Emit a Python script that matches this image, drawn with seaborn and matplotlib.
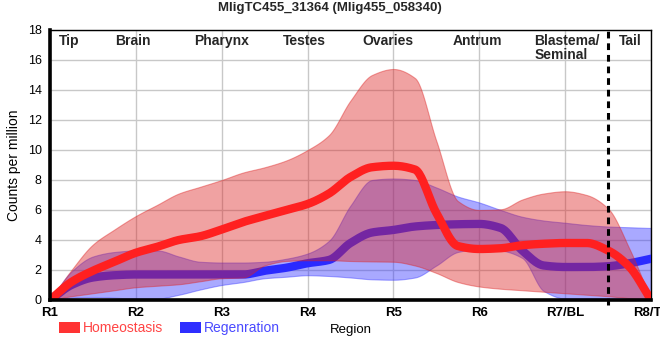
import numpy as np
import pandas as pd
import matplotlib
matplotlib.use("Agg")
import matplotlib.pyplot as plt
import seaborn as sns
from matplotlib.patches import Patch

sns.set_theme(style="whitegrid")
plt.rcParams["font.family"] = ["Liberation Sans", "DejaVu Sans"]

# body regions along the x axis
regions = ["R1", "R2", "R3", "R4", "R5", "R6", "R7/BL", "R8/TL"]
tissues = ["Tip", "Brain", "Pharynx", "Testes", "Ovaries", "Antrum",
           "Blastema/\nSeminal", "Tail"]

# sampled in quarter steps between regions (R1 = 0 ... R8 = 7)
steps = np.arange(29) / 4

homeo_mean = [0, 1.2, 1.95, 2.55, 3.15, 3.55, 4.0, 4.25, 4.7, 5.2, 5.6, 6.0, 6.4,
              7.1, 8.2, 8.85, 8.95, 8.7, 5.8, 3.6, 3.4, 3.45, 3.65, 3.75, 3.8,
              3.8, 3.3, 2.2, 0]
homeo_low = [0, 0.25, 0.45, 0.65, 0.85, 0.95, 1.05, 1.25, 1.45, 1.5, 2.3, 2.6, 2.65,
             2.65, 2.6, 2.57, 2.55, 2.3, 1.8, 1.2, 0.9, 0.75, 0.65, 0.55, 0.45,
             0.35, 0.25, 0.12, 0]
homeo_high = [0, 2.0, 3.7, 4.7, 5.6, 6.35, 7.1, 7.55, 8.0, 8.5, 8.85, 9.3, 10.0,
              11.0, 13.3, 15.0, 15.4, 14.8, 10.6, 6.6, 6.0, 6.05, 6.7, 7.1, 7.25,
              7.0, 6.1, 3.4, 0]

regen_mean = [0, 1.0, 1.5, 1.65, 1.7, 1.7, 1.7, 1.7, 1.7, 1.7, 1.95, 2.15, 2.45,
              2.67, 3.8, 4.5, 4.67, 4.9, 5.0, 5.05, 5.07, 4.8, 3.3, 2.3, 2.2,
              2.2, 2.25, 2.45, 2.75]
regen_low = [0, 0.15, 0.2, 0.15, 0.1, 0.1, 0.35, 0.7, 1.0, 1.2, 1.45, 1.55, 1.65,
             1.6, 1.5, 1.38, 1.35, 1.5, 2.3, 3.2, 3.4, 3.3, 2.8, 0.6, 0.1,
             0.1, 0.1, 0.1, 0.1]
regen_high = [0, 1.9, 2.9, 3.2, 3.3, 3.3, 2.9, 2.55, 2.5, 2.5, 2.55, 2.75, 3.1,
              3.95, 6.3, 8.0, 8.1, 8.0, 7.5, 6.9, 6.5, 6.0, 5.55, 5.3, 5.15,
              5.0, 4.9, 4.85, 4.8]


def monotone(x, y, xs):
    # monotone cubic (Fritsch-Carlson) so the curves stay smooth without overshoot
    x = np.asarray(x, float)
    y = np.asarray(y, float)
    h = np.diff(x)
    d = np.diff(y) / h
    m = np.zeros_like(y)
    for k in range(1, len(y) - 1):
        if d[k - 1] * d[k] > 0:
            w1 = 2 * h[k] + h[k - 1]
            w2 = h[k] + 2 * h[k - 1]
            m[k] = (w1 + w2) / (w1 / d[k - 1] + w2 / d[k])
    m[0] = d[0]
    m[-1] = d[-1]
    idx = np.clip(np.searchsorted(x, xs) - 1, 0, len(x) - 2)
    t = (xs - x[idx]) / h[idx]
    h00 = 2 * t**3 - 3 * t**2 + 1
    h10 = t**3 - 2 * t**2 + t
    h01 = -2 * t**3 + 3 * t**2
    h11 = t**3 - t**2
    return (h00 * y[idx] + h10 * h[idx] * m[idx]
            + h01 * y[idx + 1] + h11 * h[idx] * m[idx + 1])


xs = np.linspace(0, 7, 600)

fig = plt.figure(figsize=(6.6, 3.6), dpi=100)
ax = fig.add_axes([50 / 660, 60 / 360, 601 / 660, 270 / 360])

# blue first, then red on top (red band tints the blue line purple)
series = [
    ("Regenration", regen_mean, regen_low, regen_high, "#2a2aff", "#3333ff"),
    ("Homeostasis", homeo_mean, homeo_low, homeo_high, "#ff2020", "#dd2222"),
]
z = 2
for name, mean, low, high, line_col, band_col in series:
    ax.fill_between(xs, monotone(steps, low, xs), monotone(steps, high, xs),
                    color=band_col, alpha=0.42, linewidth=0.8, zorder=z)
    df = pd.DataFrame({"pos": xs, "cpm": monotone(steps, mean, xs)})
    sns.lineplot(data=df, x="pos", y="cpm", color=line_col, linewidth=6,
                 ax=ax, legend=False, zorder=z + 1)
    z += 2

ax.axvline(6.5, ymin=-0.02, color="black", linestyle=(0, (2.2, 1.6)),
           linewidth=2.2, clip_on=False, zorder=7)

ax.set_xlim(0, 7)
ax.set_ylim(0, 18)
ax.set_xticks(range(len(regions)))
ax.set_xticklabels(regions, fontweight="bold", fontsize=9.5)
ax.set_yticks(range(0, 19, 2))
ax.tick_params(axis="y", labelsize=9, length=4, width=1.2, color="black",
               labelcolor="black", pad=2)
ax.tick_params(axis="x", length=4, width=1.8, color="black",
               labelcolor="black", pad=1)
ax.grid(True, color="#c8c8c8", linewidth=1)
ax.set_axisbelow(True)

for side in ["left", "bottom"]:
    ax.spines[side].set_linewidth(2.6)
    ax.spines[side].set_color("black")
    ax.spines[side].set_zorder(8)
for side in ["top", "right"]:
    ax.spines[side].set_linewidth(1)
    ax.spines[side].set_color("black")

ax.set_ylabel("Counts per million", fontsize=10, color="black", labelpad=5)
ax.set_xlabel("Region", fontsize=9.5, color="black", labelpad=4)

# tissue names along the top of the plot
tissue_x = [0.1, 0.97, 2.0, 2.96, 3.94, 4.98, 5.64, 6.76]
for i, name in enumerate(tissues):
    ha = "left" if i in (0, 6) else "center"
    ax.text(tissue_x[i], 17.75, name, ha=ha, va="top", fontsize=10,
            fontweight="bold", linespacing=1.0, zorder=9)

fig.suptitle("MligTC455_31364 (Mlig455_058340)", x=0.5, y=0.995,
             fontsize=9.5, fontweight="bold")

handles = [Patch(facecolor="#ff3333", edgecolor="none"),
           Patch(facecolor="#2f2fff", edgecolor="none")]
fig.legend(handles, ["Homeostasis", "Regenration"], loc="center left",
           bbox_to_anchor=(0.07, 0.088), ncol=2, frameon=False, fontsize=10,
           labelcolor=["#ff4444", "#4a4aff"], handlelength=1.5,
           handleheight=0.75, handletextpad=0.25, columnspacing=1.2)

fig.savefig("out.png", dpi=100)
